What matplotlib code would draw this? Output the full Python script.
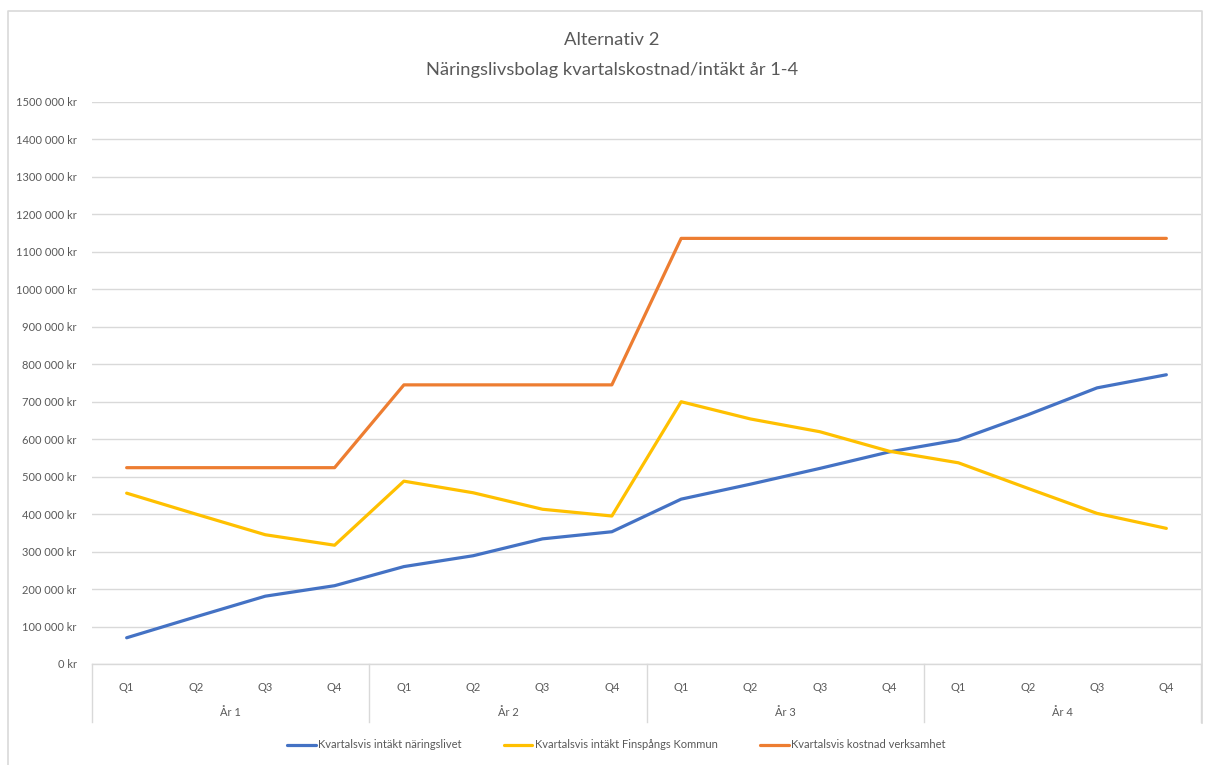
import matplotlib.pyplot as plt
from matplotlib.lines import Line2D
import matplotlib.transforms as mtransforms

plt.rcParams['font.family'] = ['Lato', 'DejaVu Sans']

kvartal = ['Q1', 'Q2', 'Q3', 'Q4']
ar = ['År 1', 'År 2', 'År 3', 'År 4']

intakt_naringsliv = [70000, 126000, 181000, 209000,
                     260000, 289000, 334000, 353000,
                     440000, 480000, 522000, 566000,
                     598000, 665000, 737000, 772000]
intakt_kommun = [456000, 400000, 345000, 317000,
                 488000, 457000, 413000, 395000,
                 700000, 654000, 620000, 568000,
                 537000, 469000, 402000, 362000]
kostnad = [524000, 524000, 524000, 524000,
           745000, 745000, 745000, 745000,
           1136000, 1136000, 1136000, 1136000,
           1136000, 1136000, 1136000, 1136000]

namn = ['Kvartalsvis intäkt näringslivet',
        'Kvartalsvis intäkt Finspångs Kommun',
        'Kvartalsvis kostnad verksamhet']
farger = ['#4472C4', '#FFC000', '#ED7D31']

W, H = 1206, 765
fig = plt.figure(figsize=(W / 100, H / 100), dpi=100)
ax = fig.add_axes([92 / W, 1 - 664 / H, (1201 - 92) / W, (664 - 102) / H])

# ram runt diagrammet (nederkanten syns inte i bilden)
ram = dict(transform=fig.transFigure, color='#D9D9D9', linewidth=1.2)
fig.lines.append(Line2D([8 / W, 8 / W, 1202 / W, 1202 / W],
                        [0, 1 - 11 / H, 1 - 11 / H, 1 - 723 / H], **ram))

x = list(range(len(intakt_naringsliv)))
for serie, n, c in zip([intakt_naringsliv, intakt_kommun, kostnad], namn, farger):
    ax.plot(x, serie, color=c, linewidth=2.3, label=n, solid_capstyle='round')

ax.set_xlim(-0.5, len(x) - 0.5)
ax.set_ylim(0, 1500000)
yt = list(range(0, 1500001, 100000))
ax.set_yticks(yt)
ax.set_yticklabels(['0 kr' if v == 0 else f'{v // 1000} 000 kr' for v in yt],
                   fontsize=8, color='#595959')
ax.yaxis.grid(True, color='#D9D9D9', linewidth=1)
ax.set_axisbelow(True)
ax.tick_params(axis='y', length=0, pad=11)
for s in ['top', 'right', 'left']:
    ax.spines[s].set_visible(False)
ax.spines['bottom'].set_color('#D9D9D9')
ax.spines['bottom'].set_linewidth(1)

ax.set_xticks(x)
ax.set_xticklabels(kvartal * len(ar), fontsize=8, color='#595959')
ax.tick_params(axis='x', length=0, pad=13)

trans = mtransforms.blended_transform_factory(ax.transData, ax.transAxes)
for i in range(len(ar) + 1):
    ax.plot([i * 4 - 0.5, i * 4 - 0.5], [0, -58 / 562], color='#D9D9D9',
            linewidth=1, transform=trans, clip_on=False)
for i, a in enumerate(ar):
    ax.text(i * 4 + 1.5, -49 / 562, a, transform=trans, ha='center', va='center',
            fontsize=8, color='#595959')

fig.text(612 / W, 1 - 40 / H, 'Alternativ 2', ha='center', va='center',
         fontsize=13.2, color='#595959')
fig.text(612 / W, 1 - 70 / H, 'Näringslivsbolag kvartalskostnad/intäkt år 1-4',
         ha='center', va='center', fontsize=13.2, color='#595959')

fig.legend(loc='center', bbox_to_anchor=(616 / W, 1 - 745 / H), ncol=3,
           frameon=False, fontsize=8, handlelength=2.6, handletextpad=0.2,
           columnspacing=3.8, labelcolor='#595959')

fig.savefig('out.png', dpi=100)
